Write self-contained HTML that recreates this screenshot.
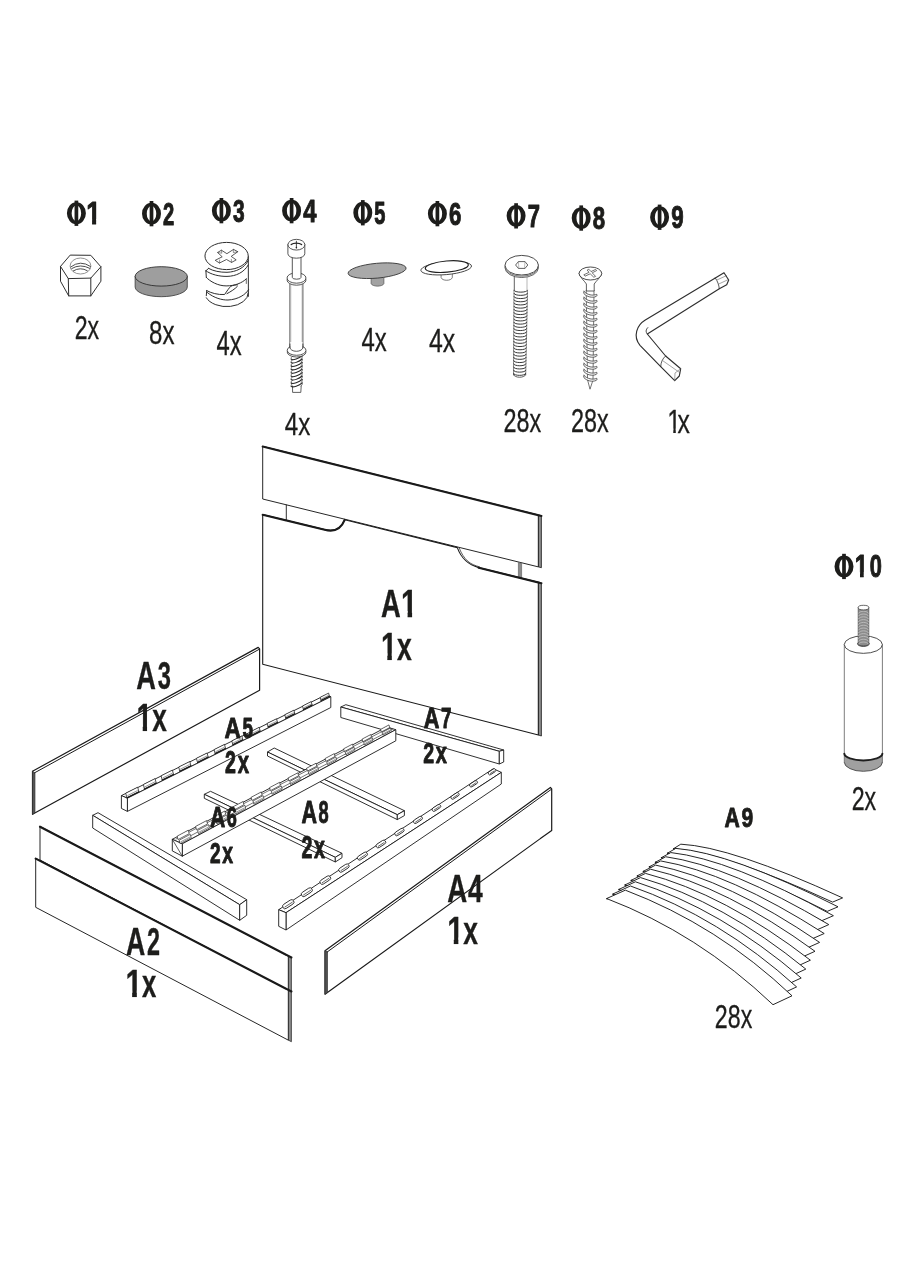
<!DOCTYPE html><html><head><meta charset="utf-8"><title>parts</title><style>html,body{margin:0;padding:0;background:#fff}svg{display:block}text{font-family:"Liberation Sans",sans-serif}</style></head><body><svg width="900" height="1280" viewBox="0 0 900 1280"><rect width="900" height="1280" fill="#fff"/>
<g opacity="0.999"><defs><clipPath id="c1b" clipPathUnits="userSpaceOnUse"><polygon points="0,-300 156,-300 156,-66 151,-66 151,8 89,8 89,-66 0,-66"/></clipPath><clipPath id="c1r" clipPathUnits="userSpaceOnUse"><polygon points="0,-300 142,-300 142,-52 138,-52 138,8 98,8 98,-52 0,-52"/></clipPath></defs>
<path d="M66.90,213.25 a9.50,10.88 0 1,0 19.00,0 a9.50,10.88 0 1,0 -19.00,0 Z M71.65,213.25 a4.75,7.72 0 1,0 9.50,0 a4.75,7.72 0 1,0 -9.50,0 Z" fill="#1d1d1b" fill-rule="evenodd"/><rect x="74.55" y="200.60" width="3.7" height="25.30" fill="#1d1d1b"/>
<text transform="matrix(0.06667 0 0 0.07855 86.15 224.25)" font-size="400" font-weight="bold" fill="#1d1d1b" stroke="#1d1d1b" stroke-width="0.9" vector-effect="non-scaling-stroke" stroke-linejoin="round" clip-path="url(#c1b)">1</text>
<path d="M142.00,213.65 a9.50,10.88 0 1,0 19.00,0 a9.50,10.88 0 1,0 -19.00,0 Z M146.75,213.65 a4.75,7.72 0 1,0 9.50,0 a4.75,7.72 0 1,0 -9.50,0 Z" fill="#1d1d1b" fill-rule="evenodd"/><rect x="149.65" y="201.00" width="3.7" height="25.30" fill="#1d1d1b"/>
<text transform="matrix(0.05045 0 0 0.07855 163.05 224.65)" font-size="400" font-weight="bold" fill="#1d1d1b" stroke="#1d1d1b" stroke-width="0.9" vector-effect="non-scaling-stroke" stroke-linejoin="round">2</text>
<path d="M211.90,210.65 a9.50,10.88 0 1,0 19.00,0 a9.50,10.88 0 1,0 -19.00,0 Z M216.65,210.65 a4.75,7.72 0 1,0 9.50,0 a4.75,7.72 0 1,0 -9.50,0 Z" fill="#1d1d1b" fill-rule="evenodd"/><rect x="219.55" y="198.00" width="3.7" height="25.30" fill="#1d1d1b"/>
<text transform="matrix(0.05225 0 0 0.07855 232.95 221.65)" font-size="400" font-weight="bold" fill="#1d1d1b" stroke="#1d1d1b" stroke-width="0.9" vector-effect="non-scaling-stroke" stroke-linejoin="round">3</text>
<path d="M282.10,210.65 a9.50,10.88 0 1,0 19.00,0 a9.50,10.88 0 1,0 -19.00,0 Z M286.85,210.65 a4.75,7.72 0 1,0 9.50,0 a4.75,7.72 0 1,0 -9.50,0 Z" fill="#1d1d1b" fill-rule="evenodd"/><rect x="289.75" y="198.00" width="3.7" height="25.30" fill="#1d1d1b"/>
<text transform="matrix(0.05946 0 0 0.07855 303.15 221.65)" font-size="400" font-weight="bold" fill="#1d1d1b" stroke="#1d1d1b" stroke-width="0.9" vector-effect="non-scaling-stroke" stroke-linejoin="round">4</text>
<path d="M353.30,212.75 a9.50,10.88 0 1,0 19.00,0 a9.50,10.88 0 1,0 -19.00,0 Z M358.05,212.75 a4.75,7.72 0 1,0 9.50,0 a4.75,7.72 0 1,0 -9.50,0 Z" fill="#1d1d1b" fill-rule="evenodd"/><rect x="360.95" y="200.10" width="3.7" height="25.30" fill="#1d1d1b"/>
<text transform="matrix(0.05000 0 0 0.07855 374.35 223.75)" font-size="400" font-weight="bold" fill="#1d1d1b" stroke="#1d1d1b" stroke-width="0.9" vector-effect="non-scaling-stroke" stroke-linejoin="round">5</text>
<path d="M427.90,213.65 a9.50,10.88 0 1,0 19.00,0 a9.50,10.88 0 1,0 -19.00,0 Z M432.65,213.65 a4.75,7.72 0 1,0 9.50,0 a4.75,7.72 0 1,0 -9.50,0 Z" fill="#1d1d1b" fill-rule="evenodd"/><rect x="435.55" y="201.00" width="3.7" height="25.30" fill="#1d1d1b"/>
<text transform="matrix(0.05541 0 0 0.07855 448.95 224.65)" font-size="400" font-weight="bold" fill="#1d1d1b" stroke="#1d1d1b" stroke-width="0.9" vector-effect="non-scaling-stroke" stroke-linejoin="round">6</text>
<path d="M506.60,215.85 a9.50,10.88 0 1,0 19.00,0 a9.50,10.88 0 1,0 -19.00,0 Z M511.35,215.85 a4.75,7.72 0 1,0 9.50,0 a4.75,7.72 0 1,0 -9.50,0 Z" fill="#1d1d1b" fill-rule="evenodd"/><rect x="514.25" y="203.20" width="3.7" height="25.30" fill="#1d1d1b"/>
<text transform="matrix(0.05495 0 0 0.07855 527.65 226.85)" font-size="400" font-weight="bold" fill="#1d1d1b" stroke="#1d1d1b" stroke-width="0.9" vector-effect="non-scaling-stroke" stroke-linejoin="round">7</text>
<path d="M571.70,218.05 a9.50,10.88 0 1,0 19.00,0 a9.50,10.88 0 1,0 -19.00,0 Z M576.45,218.05 a4.75,7.72 0 1,0 9.50,0 a4.75,7.72 0 1,0 -9.50,0 Z" fill="#1d1d1b" fill-rule="evenodd"/><rect x="579.35" y="205.40" width="3.7" height="25.30" fill="#1d1d1b"/>
<text transform="matrix(0.05541 0 0 0.07855 592.75 229.05)" font-size="400" font-weight="bold" fill="#1d1d1b" stroke="#1d1d1b" stroke-width="0.9" vector-effect="non-scaling-stroke" stroke-linejoin="round">8</text>
<path d="M650.10,217.25 a9.50,10.88 0 1,0 19.00,0 a9.50,10.88 0 1,0 -19.00,0 Z M654.85,217.25 a4.75,7.72 0 1,0 9.50,0 a4.75,7.72 0 1,0 -9.50,0 Z" fill="#1d1d1b" fill-rule="evenodd"/><rect x="657.75" y="204.60" width="3.7" height="25.30" fill="#1d1d1b"/>
<text transform="matrix(0.05586 0 0 0.07855 671.15 228.25)" font-size="400" font-weight="bold" fill="#1d1d1b" stroke="#1d1d1b" stroke-width="0.9" vector-effect="non-scaling-stroke" stroke-linejoin="round">9</text>
<path d="M834.50,566.45 a9.50,10.88 0 1,0 19.00,0 a9.50,10.88 0 1,0 -19.00,0 Z M839.25,566.45 a4.75,7.72 0 1,0 9.50,0 a4.75,7.72 0 1,0 -9.50,0 Z" fill="#1d1d1b" fill-rule="evenodd"/><rect x="842.15" y="553.80" width="3.7" height="25.30" fill="#1d1d1b"/>
<text transform="matrix(0.05917 0 0 0.07745 854.75 577.25)" font-size="400" font-weight="bold" fill="#1d1d1b" stroke="#1d1d1b" stroke-width="0.9" vector-effect="non-scaling-stroke" stroke-linejoin="round" clip-path="url(#c1b)">1</text><text transform="matrix(0.05450 0 0 0.07745 869.65 577.25)" font-size="400" font-weight="bold" fill="#1d1d1b" stroke="#1d1d1b" stroke-width="0.9" vector-effect="non-scaling-stroke" stroke-linejoin="round">0</text>
<text transform="matrix(0.05776 0 0 0.08172 74.75 338.85)" font-size="400" font-weight="normal" fill="#1d1d1b" stroke="#1d1d1b" stroke-width="0.3" vector-effect="non-scaling-stroke" stroke-linejoin="round">2</text><text transform="matrix(0.05776 0 0 0.08172 87.60 338.85)" font-size="400" font-weight="normal" fill="#1d1d1b" stroke="#1d1d1b" stroke-width="0.3" vector-effect="non-scaling-stroke" stroke-linejoin="round">x</text>
<text transform="matrix(0.06012 0 0 0.08092 149.05 343.83)" font-size="400" font-weight="normal" fill="#1d1d1b" stroke="#1d1d1b" stroke-width="0.3" vector-effect="non-scaling-stroke" stroke-linejoin="round">8</text><text transform="matrix(0.06012 0 0 0.08092 162.43 343.83)" font-size="400" font-weight="normal" fill="#1d1d1b" stroke="#1d1d1b" stroke-width="0.3" vector-effect="non-scaling-stroke" stroke-linejoin="round">x</text>
<text transform="matrix(0.05941 0 0 0.08655 216.55 354.55)" font-size="400" font-weight="normal" fill="#1d1d1b" stroke="#1d1d1b" stroke-width="0.3" vector-effect="non-scaling-stroke" stroke-linejoin="round">4</text><text transform="matrix(0.05941 0 0 0.08655 229.77 354.55)" font-size="400" font-weight="normal" fill="#1d1d1b" stroke="#1d1d1b" stroke-width="0.3" vector-effect="non-scaling-stroke" stroke-linejoin="round">x</text>
<text transform="matrix(0.06036 0 0 0.08036 284.75 434.65)" font-size="400" font-weight="normal" fill="#1d1d1b" stroke="#1d1d1b" stroke-width="0.3" vector-effect="non-scaling-stroke" stroke-linejoin="round">4</text><text transform="matrix(0.06036 0 0 0.08036 298.18 434.65)" font-size="400" font-weight="normal" fill="#1d1d1b" stroke="#1d1d1b" stroke-width="0.3" vector-effect="non-scaling-stroke" stroke-linejoin="round">x</text>
<text transform="matrix(0.05965 0 0 0.08436 361.45 350.55)" font-size="400" font-weight="normal" fill="#1d1d1b" stroke="#1d1d1b" stroke-width="0.3" vector-effect="non-scaling-stroke" stroke-linejoin="round">4</text><text transform="matrix(0.05965 0 0 0.08436 374.72 350.55)" font-size="400" font-weight="normal" fill="#1d1d1b" stroke="#1d1d1b" stroke-width="0.3" vector-effect="non-scaling-stroke" stroke-linejoin="round">x</text>
<text transform="matrix(0.06202 0 0 0.08327 429.05 352.25)" font-size="400" font-weight="normal" fill="#1d1d1b" stroke="#1d1d1b" stroke-width="0.3" vector-effect="non-scaling-stroke" stroke-linejoin="round">4</text><text transform="matrix(0.06202 0 0 0.08327 442.85 352.25)" font-size="400" font-weight="normal" fill="#1d1d1b" stroke="#1d1d1b" stroke-width="0.3" vector-effect="non-scaling-stroke" stroke-linejoin="round">x</text>
<text transform="matrix(0.05846 0 0 0.08269 503.55 431.62)" font-size="400" font-weight="normal" fill="#1d1d1b" stroke="#1d1d1b" stroke-width="0.3" vector-effect="non-scaling-stroke" stroke-linejoin="round">2</text><text transform="matrix(0.05846 0 0 0.08269 516.55 431.62)" font-size="400" font-weight="normal" fill="#1d1d1b" stroke="#1d1d1b" stroke-width="0.3" vector-effect="non-scaling-stroke" stroke-linejoin="round">8</text><text transform="matrix(0.05846 0 0 0.08269 529.56 431.62)" font-size="400" font-weight="normal" fill="#1d1d1b" stroke="#1d1d1b" stroke-width="0.3" vector-effect="non-scaling-stroke" stroke-linejoin="round">x</text>
<text transform="matrix(0.05846 0 0 0.08269 571.05 431.62)" font-size="400" font-weight="normal" fill="#1d1d1b" stroke="#1d1d1b" stroke-width="0.3" vector-effect="non-scaling-stroke" stroke-linejoin="round">2</text><text transform="matrix(0.05846 0 0 0.08269 584.05 431.62)" font-size="400" font-weight="normal" fill="#1d1d1b" stroke="#1d1d1b" stroke-width="0.3" vector-effect="non-scaling-stroke" stroke-linejoin="round">8</text><text transform="matrix(0.05846 0 0 0.08269 597.06 431.62)" font-size="400" font-weight="normal" fill="#1d1d1b" stroke="#1d1d1b" stroke-width="0.3" vector-effect="non-scaling-stroke" stroke-linejoin="round">x</text>
<text transform="matrix(0.06168 0 0 0.08109 667.25 432.65)" font-size="400" font-weight="normal" fill="#1d1d1b" stroke="#1d1d1b" stroke-width="0.3" vector-effect="non-scaling-stroke" stroke-linejoin="round" clip-path="url(#c1r)">1</text><text transform="matrix(0.06168 0 0 0.08109 677.61 432.65)" font-size="400" font-weight="normal" fill="#1d1d1b" stroke="#1d1d1b" stroke-width="0.3" vector-effect="non-scaling-stroke" stroke-linejoin="round">x</text>
<text transform="matrix(0.05799 0 0 0.08423 851.65 810.25)" font-size="400" font-weight="normal" fill="#1d1d1b" stroke="#1d1d1b" stroke-width="0.3" vector-effect="non-scaling-stroke" stroke-linejoin="round">2</text><text transform="matrix(0.05799 0 0 0.08423 864.55 810.25)" font-size="400" font-weight="normal" fill="#1d1d1b" stroke="#1d1d1b" stroke-width="0.3" vector-effect="non-scaling-stroke" stroke-linejoin="round">x</text>
<text transform="matrix(0.05799 0 0 0.08269 714.85 1028.02)" font-size="400" font-weight="normal" fill="#1d1d1b" stroke="#1d1d1b" stroke-width="0.3" vector-effect="non-scaling-stroke" stroke-linejoin="round">2</text><text transform="matrix(0.05799 0 0 0.08269 727.75 1028.02)" font-size="400" font-weight="normal" fill="#1d1d1b" stroke="#1d1d1b" stroke-width="0.3" vector-effect="non-scaling-stroke" stroke-linejoin="round">8</text><text transform="matrix(0.05799 0 0 0.08269 740.65 1028.02)" font-size="400" font-weight="normal" fill="#1d1d1b" stroke="#1d1d1b" stroke-width="0.3" vector-effect="non-scaling-stroke" stroke-linejoin="round">x</text>
<polygon points="60.5,266.4 70.2,255.1 90.8,255.3 100.9,266.8 100.9,281.2 90.8,295.9 68.7,295.9 60.5,281.2" fill="#fff" stroke="#2e2e2e" stroke-width="1.0" stroke-linejoin="round" />
<polyline points="60.5,266.4 68.3,278.6 90.8,278.1 100.9,266.8" fill="none" stroke="#2e2e2e" stroke-width="1.0" stroke-linejoin="round" stroke-linecap="round" />
<line x1="68.3" y1="278.6" x2="68.7" y2="295.9" stroke="#2e2e2e" stroke-width="1.0" stroke-linecap="round"/>
<line x1="90.8" y1="278.1" x2="90.8" y2="295.9" stroke="#2e2e2e" stroke-width="1.0" stroke-linecap="round"/>
<ellipse cx="80.5" cy="266.0" rx="10.40" ry="8.00" fill="none" stroke="#777" stroke-width="0.8"/>
<path d="M71.0,266.8 Q80.3,259.6 90.4,266.4" fill="none" stroke="#3a3a3a" stroke-width="0.9" stroke-linejoin="round" stroke-linecap="round" />
<path d="M71.8,268.5 Q80.3,263.4 89.7,268.3" fill="none" stroke="#3a3a3a" stroke-width="0.9" stroke-linejoin="round" stroke-linecap="round" />
<path d="M73.3,270.9 Q80.3,266.6 87.3,270.7" fill="none" stroke="#3a3a3a" stroke-width="0.9" stroke-linejoin="round" stroke-linecap="round" />
<path d="M135.14999999999998,276.4 L135.14999999999998,287.0 A26.05,9.7 0 0,0 187.25,287.0 L187.25,276.4 Z" fill="#949494" stroke="#444" stroke-width="0.9" stroke-linejoin="round" stroke-linecap="round" />
<ellipse cx="161.2" cy="276.4" rx="26.05" ry="9.70" fill="#9e9e9e" stroke="#2e2e2e" stroke-width="0.9"/>
<path d="M205.95,270.0 L205.25,295.5 A21.65,13.6 0 0,0 248.25,296.4 L248.25,256.0 Z" fill="#fff" stroke="none" stroke-width="1.0" stroke-linejoin="round" stroke-linecap="round" />
<line x1="248.3" y1="256.5" x2="248.4" y2="296.4" stroke="#2e2e2e" stroke-width="1.0" stroke-linecap="round"/>
<path d="M206.30,297.73 A21.65,13.60 0 0,0 248.25,293.00" fill="none" stroke="#2e2e2e" stroke-width="1.0" stroke-linejoin="round" stroke-linecap="round" />
<line x1="206.7" y1="290.6" x2="206.3" y2="295.7" stroke="#2e2e2e" stroke-width="1.0" stroke-linecap="round"/>
<path d="M206.7,290.6 C211,293 218,295 224.6,294.5 C227,291 229,288 230.8,286.3 C233,285.2 235.5,284.9 237.4,284.8" fill="none" stroke="#2e2e2e" stroke-width="1.0" stroke-linejoin="round" stroke-linecap="round" />
<path d="M226.9,293.7 C231,291.5 235,289 237.4,286.3" fill="none" stroke="#2e2e2e" stroke-width="1.0" stroke-linejoin="round" stroke-linecap="round" />
<path d="M207.4,292.6 C214,298 222,300.2 228,300 C238,299.6 246,294.5 248.7,289.4" fill="none" stroke="#2e2e2e" stroke-width="1.0" stroke-linejoin="round" stroke-linecap="round" />
<path d="M206.3,277.4 C210,281.5 218,285.9 226.1,285.9 C235,285.9 242,283 246.3,278.9" fill="none" stroke="#2e2e2e" stroke-width="1.0" stroke-linejoin="round" stroke-linecap="round" />
<line x1="205.9" y1="270.8" x2="206.3" y2="277.4" stroke="#2e2e2e" stroke-width="1.0" stroke-linecap="round"/>
<path d="M205.9,270.8 C211,274.5 219,276.5 227,276.4 C236,276.2 244,272.5 248.3,264.9" fill="none" stroke="#2e2e2e" stroke-width="1.0" stroke-linejoin="round" stroke-linecap="round" />
<line x1="205.9" y1="270.8" x2="208.6" y2="268.4" stroke="#2e2e2e" stroke-width="1.0" stroke-linecap="round"/>
<path d="M208.6,268.4 C213,271 220,272.4 227,272.3 C236,272.0 244.5,268 248.1,260.7" fill="none" stroke="#2e2e2e" stroke-width="1.0" stroke-linejoin="round" stroke-linecap="round" />
<line x1="246.3" y1="278.9" x2="246.3" y2="283.5" stroke="#2e2e2e" stroke-width="0.7" stroke-linecap="round"/>
<ellipse cx="226.6" cy="256.0" rx="21.65" ry="13.60" fill="#fff" stroke="#2e2e2e" stroke-width="1.0"/>
<polygon points="217.6,252.5 221.4,250.2 226.9,253.7 233.5,249.4 237.8,251.7 231.2,256.4 236.2,259.9 231.6,262.4 226.5,259.5 219.5,263.0 215.2,260.3 222.2,256.8" fill="#fff" stroke="#2e2e2e" stroke-width="0.8" stroke-linejoin="round" />
<polyline points="221.4,250.2 221.8,253.2 217.6,252.5" fill="none" stroke="#2e2e2e" stroke-width="0.5" stroke-linejoin="round" stroke-linecap="round" />
<polyline points="233.5,249.4 233.3,252.6 237.8,251.7" fill="none" stroke="#2e2e2e" stroke-width="0.5" stroke-linejoin="round" stroke-linecap="round" />
<polyline points="231.6,262.4 231.3,259.3" fill="none" stroke="#2e2e2e" stroke-width="0.5" stroke-linejoin="round" stroke-linecap="round" />
<polyline points="219.5,263.0 219.7,260.0" fill="none" stroke="#2e2e2e" stroke-width="0.5" stroke-linejoin="round" stroke-linecap="round" />
<rect x="289.9" y="284" width="13" height="65" fill="#fff" stroke="none"/>
<line x1="289.9" y1="284.3" x2="289.9" y2="347.7" stroke="#383838" stroke-width="0.85" stroke-linecap="round"/>
<line x1="302.9" y1="284.3" x2="302.9" y2="347.7" stroke="#383838" stroke-width="0.85" stroke-linecap="round"/>
<line x1="290.9" y1="285.0" x2="290.9" y2="347.7" stroke="#aaa" stroke-width="0.5" stroke-linecap="round"/>
<line x1="301.9" y1="285.0" x2="301.9" y2="347.7" stroke="#aaa" stroke-width="0.5" stroke-linecap="round"/>
<path d="M291.8,356 L301.8,356 L301.8,386 L300.8,392.4 L292.6,392.4 L291.8,386 Z" fill="#fff" stroke="none"/>
<path d="M292.5,386 L292.6,392.4 L300.8,392.4 L301.2,386" fill="none" stroke="#383838" stroke-width="0.8" stroke-linejoin="round" stroke-linecap="round" />
<path d="M291.2,359.2 C292.8,360.6 299.2,358.4 302.2,355.6" fill="none" stroke="#262626" stroke-width="1.05" stroke-linejoin="round" stroke-linecap="round" />
<path d="M291.2,359.2 C290.8,357.8 291.6,356.6 292.6,356.3" fill="none" stroke="#383838" stroke-width="0.7" stroke-linejoin="round" stroke-linecap="round" />
<path d="M302.2,355.6 C302.6,357.0 302.0,358.2 301.0,358.8" fill="none" stroke="#383838" stroke-width="0.7" stroke-linejoin="round" stroke-linecap="round" />
<path d="M291.2,362.6 C292.8,364.0 299.2,361.8 302.2,359.0" fill="none" stroke="#262626" stroke-width="1.05" stroke-linejoin="round" stroke-linecap="round" />
<path d="M291.2,362.6 C290.8,361.2 291.6,360.0 292.6,359.7" fill="none" stroke="#383838" stroke-width="0.7" stroke-linejoin="round" stroke-linecap="round" />
<path d="M302.2,359.0 C302.6,360.4 302.0,361.6 301.0,362.2" fill="none" stroke="#383838" stroke-width="0.7" stroke-linejoin="round" stroke-linecap="round" />
<path d="M291.2,366.0 C292.8,367.4 299.2,365.2 302.2,362.4" fill="none" stroke="#262626" stroke-width="1.05" stroke-linejoin="round" stroke-linecap="round" />
<path d="M291.2,366.0 C290.8,364.6 291.6,363.4 292.6,363.1" fill="none" stroke="#383838" stroke-width="0.7" stroke-linejoin="round" stroke-linecap="round" />
<path d="M302.2,362.4 C302.6,363.8 302.0,365.0 301.0,365.6" fill="none" stroke="#383838" stroke-width="0.7" stroke-linejoin="round" stroke-linecap="round" />
<path d="M291.2,369.4 C292.8,370.8 299.2,368.6 302.2,365.8" fill="none" stroke="#262626" stroke-width="1.05" stroke-linejoin="round" stroke-linecap="round" />
<path d="M291.2,369.4 C290.8,368.0 291.6,366.8 292.6,366.5" fill="none" stroke="#383838" stroke-width="0.7" stroke-linejoin="round" stroke-linecap="round" />
<path d="M302.2,365.8 C302.6,367.2 302.0,368.4 301.0,369.0" fill="none" stroke="#383838" stroke-width="0.7" stroke-linejoin="round" stroke-linecap="round" />
<path d="M291.2,372.8 C292.8,374.2 299.2,372.0 302.2,369.2" fill="none" stroke="#262626" stroke-width="1.05" stroke-linejoin="round" stroke-linecap="round" />
<path d="M291.2,372.8 C290.8,371.4 291.6,370.2 292.6,369.9" fill="none" stroke="#383838" stroke-width="0.7" stroke-linejoin="round" stroke-linecap="round" />
<path d="M302.2,369.2 C302.6,370.6 302.0,371.8 301.0,372.4" fill="none" stroke="#383838" stroke-width="0.7" stroke-linejoin="round" stroke-linecap="round" />
<path d="M291.2,376.2 C292.8,377.6 299.2,375.4 302.2,372.6" fill="none" stroke="#262626" stroke-width="1.05" stroke-linejoin="round" stroke-linecap="round" />
<path d="M291.2,376.2 C290.8,374.8 291.6,373.6 292.6,373.3" fill="none" stroke="#383838" stroke-width="0.7" stroke-linejoin="round" stroke-linecap="round" />
<path d="M302.2,372.6 C302.6,374.0 302.0,375.2 301.0,375.8" fill="none" stroke="#383838" stroke-width="0.7" stroke-linejoin="round" stroke-linecap="round" />
<path d="M291.2,379.6 C292.8,381.0 299.2,378.8 302.2,376.0" fill="none" stroke="#262626" stroke-width="1.05" stroke-linejoin="round" stroke-linecap="round" />
<path d="M291.2,379.6 C290.8,378.2 291.6,377.0 292.6,376.7" fill="none" stroke="#383838" stroke-width="0.7" stroke-linejoin="round" stroke-linecap="round" />
<path d="M302.2,376.0 C302.6,377.4 302.0,378.6 301.0,379.2" fill="none" stroke="#383838" stroke-width="0.7" stroke-linejoin="round" stroke-linecap="round" />
<path d="M291.2,383.0 C292.8,384.4 299.2,382.2 302.2,379.4" fill="none" stroke="#262626" stroke-width="1.05" stroke-linejoin="round" stroke-linecap="round" />
<path d="M291.2,383.0 C290.8,381.6 291.6,380.4 292.6,380.1" fill="none" stroke="#383838" stroke-width="0.7" stroke-linejoin="round" stroke-linecap="round" />
<path d="M302.2,379.4 C302.6,380.8 302.0,382.0 301.0,382.6" fill="none" stroke="#383838" stroke-width="0.7" stroke-linejoin="round" stroke-linecap="round" />
<path d="M291.2,386.4 C292.8,387.8 299.2,385.6 302.2,382.8" fill="none" stroke="#262626" stroke-width="1.05" stroke-linejoin="round" stroke-linecap="round" />
<path d="M291.2,386.4 C290.8,385.0 291.6,383.8 292.6,383.5" fill="none" stroke="#383838" stroke-width="0.7" stroke-linejoin="round" stroke-linecap="round" />
<path d="M302.2,382.8 C302.6,384.2 302.0,385.4 301.0,386.0" fill="none" stroke="#383838" stroke-width="0.7" stroke-linejoin="round" stroke-linecap="round" />
<ellipse cx="296.6" cy="352.0" rx="9.40" ry="5.00" fill="#fff" stroke="#383838" stroke-width="0.85"/>
<ellipse cx="296.6" cy="350.3" rx="9.40" ry="5.00" fill="#fff" stroke="#383838" stroke-width="0.85"/>
<path d="M290.3,342 L290.3,347.7 A6.5,3.6 0 0,0 302.5,347.7 L302.5,342 Z" fill="#fff" stroke="none" stroke-width="1.0" stroke-linejoin="round" stroke-linecap="round" />
<path d="M289.9,347.7 A6.5,3.6 0 0,0 302.9,347.7" fill="none" stroke="#383838" stroke-width="0.85" stroke-linejoin="round" stroke-linecap="round" />
<line x1="289.9" y1="344.0" x2="289.9" y2="347.7" stroke="#383838" stroke-width="0.85" stroke-linecap="round"/>
<line x1="302.9" y1="344.0" x2="302.9" y2="347.7" stroke="#383838" stroke-width="0.85" stroke-linecap="round"/>
<ellipse cx="296.5" cy="280.0" rx="9.50" ry="5.20" fill="#fff" stroke="#383838" stroke-width="0.85"/>
<ellipse cx="296.5" cy="278.0" rx="9.50" ry="5.20" fill="#fff" stroke="#383838" stroke-width="0.85"/>
<path d="M292.3,256 L292.3,277.4 A4.35,1.8 0 0,0 301,277.4 L301,256 Z" fill="#fff" stroke="#383838" stroke-width="0.85" stroke-linejoin="round" stroke-linecap="round" />
<path d="M287.9,244.7 L287.9,253.8 A8.45,4.4 0 0,0 304.8,253.8 L304.8,244.7 Z" fill="#fff" stroke="#383838" stroke-width="0.85" stroke-linejoin="round" stroke-linecap="round" />
<ellipse cx="296.4" cy="244.7" rx="8.45" ry="5.35" fill="#fff" stroke="#383838" stroke-width="0.85"/>
<path d="M291.2,244.6 C293.5,242.6 299,242.6 301.6,244.6" fill="none" stroke="#222" stroke-width="1.3" stroke-linejoin="round" stroke-linecap="round" />
<line x1="296.4" y1="241.2" x2="296.4" y2="248.3" stroke="#222" stroke-width="0.8" stroke-linecap="round"/>
<ellipse cx="296.4" cy="247.4" rx="0.80" ry="0.60" fill="#222" stroke="none" stroke-width="0"/>
<path d="M371.1,275 L371.1,283.5 C372,287 383,287 383.9,283.5 L383.9,274 Z" fill="#a2a2a2" stroke="#555" stroke-width="0.7" stroke-linejoin="round" stroke-linecap="round" />
<ellipse cx="377.1" cy="270.7" rx="29.10" ry="7.40" fill="#a9a9a9" stroke="#3a3a3a" stroke-width="0.9" transform="rotate(-5.3 377.1 270.7)"/>
<path d="M441.1,272 L441.1,277.5 C442,281.2 451.4,281.2 452.3,277.5 L452.3,271 Z" fill="#fff" stroke="#444" stroke-width="0.7" stroke-linejoin="round" stroke-linecap="round" />
<ellipse cx="446.2" cy="268.2" rx="25.40" ry="6.40" fill="#fff" stroke="#3a3a3a" stroke-width="0.9" transform="rotate(-5 446.2 268.2)"/>
<ellipse cx="446.8" cy="266.6" rx="21.60" ry="5.60" fill="#fff" stroke="#222" stroke-width="1.2" transform="rotate(-5 446.8 266.6)"/>
<path d="M514,290 L527.7,290 L526.7,374 C526,378 515,378 513.8,374 Z" fill="#fff" stroke="none"/>
<path d="M514.0,290.3 C514.0,292.9 527.5,292.9 527.5,290.3" fill="none" stroke="#2e2e2e" stroke-width="0.95" stroke-linejoin="round" stroke-linecap="round" />
<path d="M514.0,293.5 C514.0,296.1 527.4,296.1 527.4,293.5" fill="none" stroke="#2e2e2e" stroke-width="0.95" stroke-linejoin="round" stroke-linecap="round" />
<path d="M514.0,296.7 C514.0,299.3 527.4,299.3 527.4,296.7" fill="none" stroke="#2e2e2e" stroke-width="0.95" stroke-linejoin="round" stroke-linecap="round" />
<path d="M513.9,299.9 C513.9,302.5 527.3,302.5 527.3,299.9" fill="none" stroke="#2e2e2e" stroke-width="0.95" stroke-linejoin="round" stroke-linecap="round" />
<path d="M513.9,303.1 C513.9,305.7 527.2,305.7 527.2,303.1" fill="none" stroke="#2e2e2e" stroke-width="0.95" stroke-linejoin="round" stroke-linecap="round" />
<path d="M513.9,306.3 C513.9,308.9 527.2,308.9 527.2,306.3" fill="none" stroke="#2e2e2e" stroke-width="0.95" stroke-linejoin="round" stroke-linecap="round" />
<path d="M513.9,309.5 C513.9,312.1 527.1,312.1 527.1,309.5" fill="none" stroke="#2e2e2e" stroke-width="0.95" stroke-linejoin="round" stroke-linecap="round" />
<path d="M513.9,312.7 C513.9,315.3 527.0,315.3 527.0,312.7" fill="none" stroke="#2e2e2e" stroke-width="0.95" stroke-linejoin="round" stroke-linecap="round" />
<path d="M513.8,315.9 C513.8,318.5 527.0,318.5 527.0,315.9" fill="none" stroke="#2e2e2e" stroke-width="0.95" stroke-linejoin="round" stroke-linecap="round" />
<path d="M513.8,319.1 C513.8,321.7 526.9,321.7 526.9,319.1" fill="none" stroke="#2e2e2e" stroke-width="0.95" stroke-linejoin="round" stroke-linecap="round" />
<path d="M513.8,322.3 C513.8,324.9 526.8,324.9 526.8,322.3" fill="none" stroke="#2e2e2e" stroke-width="0.95" stroke-linejoin="round" stroke-linecap="round" />
<path d="M513.8,325.5 C513.8,328.1 526.8,328.1 526.8,325.5" fill="none" stroke="#2e2e2e" stroke-width="0.95" stroke-linejoin="round" stroke-linecap="round" />
<path d="M513.8,328.7 C513.8,331.3 526.7,331.3 526.7,328.7" fill="none" stroke="#2e2e2e" stroke-width="0.95" stroke-linejoin="round" stroke-linecap="round" />
<path d="M513.8,331.9 C513.8,334.5 526.6,334.5 526.6,331.9" fill="none" stroke="#2e2e2e" stroke-width="0.95" stroke-linejoin="round" stroke-linecap="round" />
<path d="M513.7,335.1 C513.7,337.7 526.6,337.7 526.6,335.1" fill="none" stroke="#2e2e2e" stroke-width="0.95" stroke-linejoin="round" stroke-linecap="round" />
<path d="M513.7,338.3 C513.7,340.9 526.5,340.9 526.5,338.3" fill="none" stroke="#2e2e2e" stroke-width="0.95" stroke-linejoin="round" stroke-linecap="round" />
<path d="M513.7,341.5 C513.7,344.1 526.4,344.1 526.4,341.5" fill="none" stroke="#2e2e2e" stroke-width="0.95" stroke-linejoin="round" stroke-linecap="round" />
<path d="M513.7,344.7 C513.7,347.3 526.3,347.3 526.3,344.7" fill="none" stroke="#2e2e2e" stroke-width="0.95" stroke-linejoin="round" stroke-linecap="round" />
<path d="M513.7,347.9 C513.7,350.5 526.3,350.5 526.3,347.9" fill="none" stroke="#2e2e2e" stroke-width="0.95" stroke-linejoin="round" stroke-linecap="round" />
<path d="M513.6,351.1 C513.6,353.7 526.2,353.7 526.2,351.1" fill="none" stroke="#2e2e2e" stroke-width="0.95" stroke-linejoin="round" stroke-linecap="round" />
<path d="M513.6,354.3 C513.6,356.9 526.1,356.9 526.1,354.3" fill="none" stroke="#2e2e2e" stroke-width="0.95" stroke-linejoin="round" stroke-linecap="round" />
<path d="M513.6,357.5 C513.6,360.1 526.1,360.1 526.1,357.5" fill="none" stroke="#2e2e2e" stroke-width="0.95" stroke-linejoin="round" stroke-linecap="round" />
<path d="M513.6,360.7 C513.6,363.3 526.0,363.3 526.0,360.7" fill="none" stroke="#2e2e2e" stroke-width="0.95" stroke-linejoin="round" stroke-linecap="round" />
<path d="M513.6,363.9 C513.6,366.5 525.9,366.5 525.9,363.9" fill="none" stroke="#2e2e2e" stroke-width="0.95" stroke-linejoin="round" stroke-linecap="round" />
<path d="M513.5,367.1 C513.5,369.7 525.9,369.7 525.9,367.1" fill="none" stroke="#2e2e2e" stroke-width="0.95" stroke-linejoin="round" stroke-linecap="round" />
<path d="M513.5,370.3 C513.5,372.9 525.8,372.9 525.8,370.3" fill="none" stroke="#2e2e2e" stroke-width="0.95" stroke-linejoin="round" stroke-linecap="round" />
<path d="M513.5,373.5 C513.5,376.1 525.7,376.1 525.7,373.5" fill="none" stroke="#2e2e2e" stroke-width="0.95" stroke-linejoin="round" stroke-linecap="round" />
<line x1="514.0" y1="290.3" x2="513.5" y2="375.0" stroke="#383838" stroke-width="0.6" stroke-linecap="round"/>
<line x1="527.5" y1="290.3" x2="525.7" y2="375.0" stroke="#383838" stroke-width="0.6" stroke-linecap="round"/>
<path d="M513.5,374.5 C514.2,378.3 525,378.3 525.7,374.5" fill="none" stroke="#383838" stroke-width="0.8" stroke-linejoin="round" stroke-linecap="round" />
<path d="M514.3,276 L514.3,290.3 L527,290.3 L527,276 Z" fill="#fff" stroke="none" stroke-width="1.0" stroke-linejoin="round" stroke-linecap="round" />
<line x1="514.3" y1="276.0" x2="514.3" y2="290.3" stroke="#383838" stroke-width="0.8" stroke-linecap="round"/>
<line x1="527.0" y1="276.0" x2="527.0" y2="290.3" stroke="#999" stroke-width="0.7" stroke-linecap="round"/>
<ellipse cx="521.7" cy="267.7" rx="16.70" ry="9.80" fill="#fff" stroke="#383838" stroke-width="0.8"/>
<ellipse cx="521.7" cy="266.4" rx="16.70" ry="9.80" fill="#fff" stroke="#383838" stroke-width="0.7"/>
<ellipse cx="521.7" cy="265.2" rx="16.70" ry="9.80" fill="#fff" stroke="#383838" stroke-width="0.9"/>
<polygon points="515.6,265.0 518.4,261.6 525.0,261.6 527.8,265.0 525.0,268.4 518.4,268.4" fill="#fff" stroke="#383838" stroke-width="0.8" stroke-linejoin="round" />
<polyline points="518.4,261.6 518.8,267.0 518.4,268.4" fill="none" stroke="#777" stroke-width="0.5" stroke-linejoin="round" stroke-linecap="round" />
<polyline points="525.0,261.6 524.6,267.0 525.0,268.4" fill="none" stroke="#777" stroke-width="0.5" stroke-linejoin="round" stroke-linecap="round" />
<path d="M586.6,290 L594.0,290 L593.0,380 L590,389.2 L587.6,380 Z" fill="#fff" stroke="#383838" stroke-width="0.7" stroke-linejoin="round" stroke-linecap="round" />
<path d="M584.0,291.5 C587,294.9 593,296.1 596.7,294.3 C597.3,295.1 597.0,296.1 596.0,296.5 C592,298.1 587,296.9 584.0,293.7 C583.4,292.9 583.4,292.1 584.0,291.5 Z" fill="#fff" stroke="#383838" stroke-width="0.8" stroke-linejoin="round" stroke-linecap="round" />
<path d="M584.0,297.5 C587,300.9 593,302.1 596.7,300.3 C597.3,301.1 597.0,302.1 596.0,302.5 C592,304.1 587,302.9 584.0,299.7 C583.4,298.9 583.4,298.1 584.0,297.5 Z" fill="#fff" stroke="#383838" stroke-width="0.8" stroke-linejoin="round" stroke-linecap="round" />
<path d="M584.0,303.5 C587,306.9 593,308.1 596.7,306.3 C597.3,307.1 597.0,308.1 596.0,308.5 C592,310.1 587,308.9 584.0,305.7 C583.4,304.9 583.4,304.1 584.0,303.5 Z" fill="#fff" stroke="#383838" stroke-width="0.8" stroke-linejoin="round" stroke-linecap="round" />
<path d="M584.0,309.5 C587,312.9 593,314.1 596.7,312.3 C597.3,313.1 597.0,314.1 596.0,314.5 C592,316.1 587,314.9 584.0,311.7 C583.4,310.9 583.4,310.1 584.0,309.5 Z" fill="#fff" stroke="#383838" stroke-width="0.8" stroke-linejoin="round" stroke-linecap="round" />
<path d="M584.0,315.5 C587,318.9 593,320.1 596.7,318.3 C597.3,319.1 597.0,320.1 596.0,320.5 C592,322.1 587,320.9 584.0,317.7 C583.4,316.9 583.4,316.1 584.0,315.5 Z" fill="#fff" stroke="#383838" stroke-width="0.8" stroke-linejoin="round" stroke-linecap="round" />
<path d="M584.0,321.5 C587,324.9 593,326.1 596.7,324.3 C597.3,325.1 597.0,326.1 596.0,326.5 C592,328.1 587,326.9 584.0,323.7 C583.4,322.9 583.4,322.1 584.0,321.5 Z" fill="#fff" stroke="#383838" stroke-width="0.8" stroke-linejoin="round" stroke-linecap="round" />
<path d="M584.0,327.5 C587,330.9 593,332.1 596.7,330.3 C597.3,331.1 597.0,332.1 596.0,332.5 C592,334.1 587,332.9 584.0,329.7 C583.4,328.9 583.4,328.1 584.0,327.5 Z" fill="#fff" stroke="#383838" stroke-width="0.8" stroke-linejoin="round" stroke-linecap="round" />
<path d="M584.0,333.5 C587,336.9 593,338.1 596.7,336.3 C597.3,337.1 597.0,338.1 596.0,338.5 C592,340.1 587,338.9 584.0,335.7 C583.4,334.9 583.4,334.1 584.0,333.5 Z" fill="#fff" stroke="#383838" stroke-width="0.8" stroke-linejoin="round" stroke-linecap="round" />
<path d="M584.0,339.5 C587,342.9 593,344.1 596.7,342.3 C597.3,343.1 597.0,344.1 596.0,344.5 C592,346.1 587,344.9 584.0,341.7 C583.4,340.9 583.4,340.1 584.0,339.5 Z" fill="#fff" stroke="#383838" stroke-width="0.8" stroke-linejoin="round" stroke-linecap="round" />
<path d="M584.0,345.5 C587,348.9 593,350.1 596.7,348.3 C597.3,349.1 597.0,350.1 596.0,350.5 C592,352.1 587,350.9 584.0,347.7 C583.4,346.9 583.4,346.1 584.0,345.5 Z" fill="#fff" stroke="#383838" stroke-width="0.8" stroke-linejoin="round" stroke-linecap="round" />
<path d="M584.0,351.5 C587,354.9 593,356.1 596.7,354.3 C597.3,355.1 597.0,356.1 596.0,356.5 C592,358.1 587,356.9 584.0,353.7 C583.4,352.9 583.4,352.1 584.0,351.5 Z" fill="#fff" stroke="#383838" stroke-width="0.8" stroke-linejoin="round" stroke-linecap="round" />
<path d="M584.0,357.5 C587,360.9 593,362.1 596.7,360.3 C597.3,361.1 597.0,362.1 596.0,362.5 C592,364.1 587,362.9 584.0,359.7 C583.4,358.9 583.4,358.1 584.0,357.5 Z" fill="#fff" stroke="#383838" stroke-width="0.8" stroke-linejoin="round" stroke-linecap="round" />
<path d="M584.0,363.5 C587,366.9 593,368.1 596.7,366.3 C597.3,367.1 597.0,368.1 596.0,368.5 C592,370.1 587,368.9 584.0,365.7 C583.4,364.9 583.4,364.1 584.0,363.5 Z" fill="#fff" stroke="#383838" stroke-width="0.8" stroke-linejoin="round" stroke-linecap="round" />
<path d="M584.0,369.5 C587,372.9 593,374.1 596.7,372.3 C597.3,373.1 597.0,374.1 596.0,374.5 C592,376.1 587,374.9 584.0,371.7 C583.4,370.9 583.4,370.1 584.0,369.5 Z" fill="#fff" stroke="#383838" stroke-width="0.8" stroke-linejoin="round" stroke-linecap="round" />
<path d="M584.0,375.5 C587,378.9 593,380.1 596.7,378.3 C597.3,379.1 597.0,380.1 596.0,380.5 C592,382.1 587,380.9 584.0,377.7 C583.4,376.9 583.4,376.1 584.0,375.5 Z" fill="#fff" stroke="#383838" stroke-width="0.8" stroke-linejoin="round" stroke-linecap="round" />
<path d="M579,273.5 C579.5,277 585,281.5 586.4,284 L586.4,291 L594.2,291 L594.2,284 C595.6,281.5 601.2,277 601.7,273.5 Z" fill="#fff" stroke="#383838" stroke-width="0.8" stroke-linejoin="round" stroke-linecap="round" />
<ellipse cx="590.4" cy="273.5" rx="11.35" ry="6.50" fill="#fff" stroke="#383838" stroke-width="0.9"/>
<path d="M584.6,275.6 L590.0,272.8 L595.8,270.0 M586.6,270.8 L590.6,273.4 L594.6,276.6" fill="none" stroke="#fff" stroke-width="3.0" stroke-linejoin="round" stroke-linecap="round" />
<path d="M584.2,274.6 L589.0,272.4 L587.2,270.0 L588.8,269.2 L591.0,271.6 L595.6,269.4 L596.6,270.6 L592.2,272.8 L595.6,276.4 L593.8,277.2 L590.2,273.8 L585.4,276.0 Z" fill="#fff" stroke="#383838" stroke-width="0.7" stroke-linejoin="round" stroke-linecap="round" />
<path d="M715.3,278 L645.3,320 C637,325 632.5,336 640,345.3 L660.7,366.7 L674.7,380.7 L679.3,376 L680.7,368.7 L665.6,356 L647.3,334.0 L719.3,288.7 L726.7,284.7 L728.7,280.0 L724.0,272.7 Z" fill="#fff" stroke="#2e2e2e" stroke-width="1.15" stroke-linejoin="round" stroke-linecap="round" />
<path d="M647.3,334.0 C645.6,332.2 645.6,329.8 647.8,327.6" fill="none" stroke="#2e2e2e" stroke-width="0.9" stroke-linejoin="round" stroke-linecap="round" />
<path d="M715.3,278 C717.5,281 719,285 719.3,288.7" fill="none" stroke="#2e2e2e" stroke-width="0.8" stroke-linejoin="round" stroke-linecap="round" />
<polyline points="717.3,279.8 726.6,275.6" fill="none" stroke="#666" stroke-width="0.6" stroke-linejoin="round" stroke-linecap="round" />
<polyline points="718.8,284.0 728.2,279.6" fill="none" stroke="#666" stroke-width="0.6" stroke-linejoin="round" stroke-linecap="round" />
<path d="M665.6,356 C662.5,358.5 660.8,362.5 660.7,366.7" fill="none" stroke="#2e2e2e" stroke-width="0.8" stroke-linejoin="round" stroke-linecap="round" />
<polyline points="662.6,360.6 680.0,372.8" fill="none" stroke="#666" stroke-width="0.6" stroke-linejoin="round" stroke-linecap="round" />
<polyline points="674.7,380.7 675.0,373.0 680.7,368.7" fill="none" stroke="#666" stroke-width="0.6" stroke-linejoin="round" stroke-linecap="round" />
<path d="M844.3,644.6 L844.3,762.5 A19.05000000000001,8.8 0 0,0 882.4,762.5 L882.4,644.6 Z" fill="#fff" stroke="none" stroke-width="1.0" stroke-linejoin="round" stroke-linecap="round" />
<path d="M844.3,754.0 A19.05000000000001,6.9 0 0,0 882.4,754.0 L882.4,762.5 A19.05000000000001,8.8 0 0,1 844.3,762.5 Z" fill="#a0a0a0" stroke="none" stroke-width="1.0" stroke-linejoin="round" stroke-linecap="round" />
<path d="M844.3,762.5 A19.05000000000001,8.8 0 0,0 882.4,762.5" fill="none" stroke="#4a4a4a" stroke-width="0.9" stroke-linejoin="round" stroke-linecap="round" />
<line x1="844.3" y1="644.6" x2="844.3" y2="762.5" stroke="#6e6e6e" stroke-width="0.9" stroke-linecap="round"/>
<line x1="882.4" y1="644.6" x2="882.4" y2="762.5" stroke="#6e6e6e" stroke-width="0.9" stroke-linecap="round"/>
<path d="M844.3,753.6 A19.05000000000001,6.9 0 0,0 882.4,753.6" fill="none" stroke="#1e1e1e" stroke-width="1.9" stroke-linejoin="round" stroke-linecap="round" />
<ellipse cx="863.3" cy="644.6" rx="19.05" ry="8.75" fill="#fff" stroke="#3a3a3a" stroke-width="0.9"/>
<ellipse cx="863.4" cy="643.8" rx="5.90" ry="2.60" fill="#777" stroke="#333" stroke-width="0.8"/>
<path d="M858.2,607.6 L858.2,643.6 A5.3,2.2 0 0,0 868.8,643.6 L868.8,607.6 Z" fill="#8c8c8c" stroke="#4a4a4a" stroke-width="0.7" stroke-linejoin="round" stroke-linecap="round" />
<path d="M858.6,613.1 C860,610.5 867,610.5 868.4,613.1" fill="none" stroke="#c4c4c4" stroke-width="0.8" stroke-linejoin="round" stroke-linecap="round" />
<path d="M858.6,615.9 C860,613.3 867,613.3 868.4,615.9" fill="none" stroke="#c4c4c4" stroke-width="0.8" stroke-linejoin="round" stroke-linecap="round" />
<path d="M858.6,618.7 C860,616.1 867,616.1 868.4,618.7" fill="none" stroke="#c4c4c4" stroke-width="0.8" stroke-linejoin="round" stroke-linecap="round" />
<path d="M858.6,621.5 C860,618.9 867,618.9 868.4,621.5" fill="none" stroke="#c4c4c4" stroke-width="0.8" stroke-linejoin="round" stroke-linecap="round" />
<path d="M858.6,624.3 C860,621.7 867,621.7 868.4,624.3" fill="none" stroke="#c4c4c4" stroke-width="0.8" stroke-linejoin="round" stroke-linecap="round" />
<path d="M858.6,627.1 C860,624.5 867,624.5 868.4,627.1" fill="none" stroke="#c4c4c4" stroke-width="0.8" stroke-linejoin="round" stroke-linecap="round" />
<path d="M858.6,629.9 C860,627.3 867,627.3 868.4,629.9" fill="none" stroke="#c4c4c4" stroke-width="0.8" stroke-linejoin="round" stroke-linecap="round" />
<path d="M858.6,632.7 C860,630.1 867,630.1 868.4,632.7" fill="none" stroke="#c4c4c4" stroke-width="0.8" stroke-linejoin="round" stroke-linecap="round" />
<path d="M858.6,635.5 C860,632.9 867,632.9 868.4,635.5" fill="none" stroke="#c4c4c4" stroke-width="0.8" stroke-linejoin="round" stroke-linecap="round" />
<path d="M858.6,638.3 C860,635.7 867,635.7 868.4,638.3" fill="none" stroke="#c4c4c4" stroke-width="0.8" stroke-linejoin="round" stroke-linecap="round" />
<path d="M858.6,641.1 C860,638.5 867,638.5 868.4,641.1" fill="none" stroke="#c4c4c4" stroke-width="0.8" stroke-linejoin="round" stroke-linecap="round" />
<path d="M858.6,643.9 C860,641.3 867,641.3 868.4,643.9" fill="none" stroke="#c4c4c4" stroke-width="0.8" stroke-linejoin="round" stroke-linecap="round" />
<ellipse cx="863.5" cy="607.6" rx="5.30" ry="2.30" fill="#fff" stroke="#444" stroke-width="0.8"/>
<polygon points="262.7,446.3 538.4,515.0 538.4,566.9 262.7,499.0" fill="#fff" stroke="#1a1a1a" stroke-width="0.95" stroke-linejoin="round" />
<polygon points="538.4,515.0 541.4,515.8 541.4,567.7 538.4,566.9" fill="#8c8c8c" stroke="#1a1a1a" stroke-width="0.8" stroke-linejoin="round" />
<line x1="262.7" y1="446.6" x2="541.4" y2="515.9" stroke="#1a1a1a" stroke-width="2.1" stroke-linecap="round"/>
<line x1="286.3" y1="505.0" x2="286.3" y2="519.5" stroke="#1a1a1a" stroke-width="0.9" stroke-linecap="round"/>
<polygon points="518.4,562.5 521.6,563.3 521.6,577.5 518.4,576.7" fill="#8c8c8c" stroke="#555" stroke-width="0.6" stroke-linejoin="round" />
<path d="M262.7,514.6 L324.7,529.6 C334,532 341,529 344.7,519.7 L457.3,547.6 C462,560 469,565 478.7,567.6 L538.4,582.4 L538.4,735 L262.7,664.3 Z" fill="#fff" stroke="#1a1a1a" stroke-width="1.1" stroke-linejoin="round" stroke-linecap="round" />
<polygon points="538.4,582.4 541.4,583.2 541.4,736.0 538.4,735.0" fill="#8c8c8c" stroke="#1a1a1a" stroke-width="0.8" stroke-linejoin="round" />
<path d="M262.7,514.8 L324.7,529.8 C334,532.2 341,529.2 344.7,519.9" fill="none" stroke="#1a1a1a" stroke-width="2.1" stroke-linejoin="round" stroke-linecap="round" />
<path d="M478.7,567.8 L541.4,583.3" fill="none" stroke="#1a1a1a" stroke-width="2.1" stroke-linejoin="round" stroke-linecap="round" />
<path d="M459.3,548.2 C464,560 470,564.5 479.5,566.8" fill="none" stroke="#1a1a1a" stroke-width="0.7" stroke-linejoin="round" stroke-linecap="round" />
<polygon points="258.2,647.4 32.5,771.2 32.5,814.3 259.6,690.2 259.6,648.9" fill="#fff" stroke="#1a1a1a" stroke-width="1.2" stroke-linejoin="round" />
<polygon points="32.5,771.2 34.9,772.9 34.9,813.0 32.5,814.3" fill="#555" stroke="#333" stroke-width="0.8" stroke-linejoin="round" />
<line x1="34.6" y1="772.8" x2="259.4" y2="649.2" stroke="#1a1a1a" stroke-width="1.0" stroke-linecap="round"/>
<polygon points="340.8,707.0 345.8,704.7 503.7,750.0 499.3,751.3" fill="#fff" stroke="#1a1a1a" stroke-width="0.9" stroke-linejoin="round" />
<polygon points="340.8,707.0 499.3,751.3 499.3,764.0 340.8,717.5" fill="#fff" stroke="#1a1a1a" stroke-width="0.9" stroke-linejoin="round" />
<polygon points="499.3,751.3 503.7,750.0 503.7,762.0 499.3,764.0" fill="#fff" stroke="#1a1a1a" stroke-width="0.9" stroke-linejoin="round" />
<polygon points="121.4,795.6 325.0,695.3 330.8,696.7 127.4,798.2" fill="#fff" stroke="#1a1a1a" stroke-width="0.9" stroke-linejoin="round" />
<polygon points="127.4,798.2 330.8,696.7 330.8,707.5 127.4,811.4" fill="#fff" stroke="#1a1a1a" stroke-width="0.9" stroke-linejoin="round" />
<polygon points="121.4,795.6 127.4,798.2 127.4,811.4 121.4,808.4" fill="#fff" stroke="#1a1a1a" stroke-width="0.9" stroke-linejoin="round" />
<polygon points="125.7,793.2 137.7,787.2 138.9,791.8 126.9,797.8" fill="#fff" stroke="#1a1a1a" stroke-width="0.75" stroke-linejoin="round"/><line x1="126.9" y1="797.8" x2="138.9" y2="791.8" stroke="#1a1a1a" stroke-width="1.1" stroke-linecap="round"/><line x1="127.7" y1="795.5" x2="137.3" y2="790.7" stroke="#444" stroke-width="0.55" stroke-linecap="round"/>
<polygon points="143.4,784.5 155.1,778.6 156.2,783.1 144.5,789.0" fill="#fff" stroke="#1a1a1a" stroke-width="0.75" stroke-linejoin="round"/><line x1="144.5" y1="789.0" x2="156.2" y2="783.1" stroke="#1a1a1a" stroke-width="1.1" stroke-linecap="round"/><line x1="145.3" y1="786.7" x2="154.6" y2="782.0" stroke="#444" stroke-width="0.55" stroke-linecap="round"/>
<polygon points="161.1,775.8 172.4,770.1 173.5,774.4 162.2,780.1" fill="#fff" stroke="#1a1a1a" stroke-width="0.75" stroke-linejoin="round"/><line x1="162.2" y1="780.1" x2="173.5" y2="774.4" stroke="#1a1a1a" stroke-width="1.1" stroke-linecap="round"/><line x1="162.9" y1="777.9" x2="172.0" y2="773.4" stroke="#444" stroke-width="0.55" stroke-linecap="round"/>
<polygon points="178.7,767.0 189.8,761.5 190.9,765.8 179.8,771.3" fill="#fff" stroke="#1a1a1a" stroke-width="0.75" stroke-linejoin="round"/><line x1="179.8" y1="771.3" x2="190.9" y2="765.8" stroke="#1a1a1a" stroke-width="1.1" stroke-linecap="round"/><line x1="180.5" y1="769.1" x2="189.3" y2="764.7" stroke="#444" stroke-width="0.55" stroke-linecap="round"/>
<polygon points="196.4,758.3 207.1,753.0 208.2,757.1 197.5,762.4" fill="#fff" stroke="#1a1a1a" stroke-width="0.75" stroke-linejoin="round"/><line x1="197.5" y1="762.4" x2="208.2" y2="757.1" stroke="#1a1a1a" stroke-width="1.1" stroke-linecap="round"/><line x1="198.2" y1="760.4" x2="206.7" y2="756.1" stroke="#444" stroke-width="0.55" stroke-linecap="round"/>
<polygon points="214.1,749.6 224.5,744.4 225.5,748.4 215.1,753.6" fill="#fff" stroke="#1a1a1a" stroke-width="0.75" stroke-linejoin="round"/><line x1="215.1" y1="753.6" x2="225.5" y2="748.4" stroke="#1a1a1a" stroke-width="1.1" stroke-linecap="round"/><line x1="215.8" y1="751.6" x2="224.1" y2="747.4" stroke="#444" stroke-width="0.55" stroke-linecap="round"/>
<polygon points="231.8,740.9 241.8,735.9 242.8,739.7 232.8,744.7" fill="#fff" stroke="#1a1a1a" stroke-width="0.75" stroke-linejoin="round"/><line x1="232.8" y1="744.7" x2="242.8" y2="739.7" stroke="#1a1a1a" stroke-width="1.1" stroke-linecap="round"/><line x1="233.4" y1="742.8" x2="241.4" y2="738.8" stroke="#444" stroke-width="0.55" stroke-linecap="round"/>
<polygon points="249.5,732.2 259.2,727.3 260.1,731.0 250.4,735.9" fill="#fff" stroke="#1a1a1a" stroke-width="0.75" stroke-linejoin="round"/><line x1="250.4" y1="735.9" x2="260.1" y2="731.0" stroke="#1a1a1a" stroke-width="1.1" stroke-linecap="round"/><line x1="251.0" y1="734.0" x2="258.8" y2="730.1" stroke="#444" stroke-width="0.55" stroke-linecap="round"/>
<polygon points="267.1,723.4 276.5,718.8 277.5,722.4 268.1,727.0" fill="#fff" stroke="#1a1a1a" stroke-width="0.75" stroke-linejoin="round"/><line x1="268.1" y1="727.0" x2="277.5" y2="722.4" stroke="#1a1a1a" stroke-width="1.1" stroke-linecap="round"/><line x1="268.7" y1="725.2" x2="276.2" y2="721.5" stroke="#444" stroke-width="0.55" stroke-linecap="round"/>
<polygon points="284.8,714.7 293.9,710.2 294.8,713.7 285.7,718.2" fill="#fff" stroke="#1a1a1a" stroke-width="0.75" stroke-linejoin="round"/><line x1="285.7" y1="718.2" x2="294.8" y2="713.7" stroke="#1a1a1a" stroke-width="1.1" stroke-linecap="round"/><line x1="286.3" y1="716.4" x2="293.5" y2="712.8" stroke="#444" stroke-width="0.55" stroke-linecap="round"/>
<polygon points="302.5,706.0 311.2,701.6 312.1,705.0 303.4,709.4" fill="#fff" stroke="#1a1a1a" stroke-width="0.75" stroke-linejoin="round"/><line x1="303.4" y1="709.4" x2="312.1" y2="705.0" stroke="#1a1a1a" stroke-width="1.1" stroke-linecap="round"/><line x1="303.9" y1="707.7" x2="310.9" y2="704.2" stroke="#444" stroke-width="0.55" stroke-linecap="round"/>
<polygon points="320.2,697.3 328.6,693.1 329.4,696.3 321.0,700.5" fill="#fff" stroke="#1a1a1a" stroke-width="0.75" stroke-linejoin="round"/><line x1="321.0" y1="700.5" x2="329.4" y2="696.3" stroke="#1a1a1a" stroke-width="1.1" stroke-linecap="round"/><line x1="321.5" y1="698.9" x2="328.3" y2="695.5" stroke="#444" stroke-width="0.55" stroke-linecap="round"/>
<polygon points="267.5,752.0 274.2,748.0 404.4,810.7 397.3,814.7" fill="#fff" stroke="#1a1a1a" stroke-width="0.9" stroke-linejoin="round" />
<polygon points="267.5,752.0 397.3,814.7 397.3,819.6 267.5,756.0" fill="#fff" stroke="#1a1a1a" stroke-width="0.9" stroke-linejoin="round" />
<polygon points="397.3,814.7 404.4,810.7 404.4,815.6 397.3,819.6" fill="#fff" stroke="#1a1a1a" stroke-width="0.9" stroke-linejoin="round" />
<polygon points="204.3,794.3 210.5,791.3 342.0,853.3 335.3,857.3" fill="#fff" stroke="#1a1a1a" stroke-width="0.9" stroke-linejoin="round" />
<polygon points="204.3,794.3 335.3,857.3 335.3,862.0 204.3,798.3" fill="#fff" stroke="#1a1a1a" stroke-width="0.9" stroke-linejoin="round" />
<polygon points="335.3,857.3 342.0,853.3 342.0,857.7 335.3,862.0" fill="#fff" stroke="#1a1a1a" stroke-width="0.9" stroke-linejoin="round" />
<polygon points="172.3,839.3 386.7,727.0 395.8,729.7 182.3,843.8" fill="#fff" stroke="#1a1a1a" stroke-width="0.9" stroke-linejoin="round" />
<polygon points="182.3,843.8 395.8,729.7 395.8,740.8 182.3,856.2" fill="#fff" stroke="#1a1a1a" stroke-width="0.9" stroke-linejoin="round" />
<polygon points="172.3,839.3 182.3,843.8 182.3,856.2 172.3,850.9" fill="#fff" stroke="#1a1a1a" stroke-width="0.9" stroke-linejoin="round" />
<line x1="172.3" y1="839.3" x2="182.3" y2="856.2" stroke="#1a1a1a" stroke-width="0.7" stroke-linecap="round"/>
<line x1="176.0" y1="839.0" x2="389.5" y2="727.6" stroke="#1a1a1a" stroke-width="0.6" stroke-linecap="round"/>
<line x1="179.2" y1="841.8" x2="392.8" y2="729.0" stroke="#1a1a1a" stroke-width="0.6" stroke-linecap="round"/>
<polygon points="177.2,836.1 188.3,830.2 189.2,833.7 178.0,839.6" fill="#fff" stroke="#1a1a1a" stroke-width="0.65" stroke-linejoin="round"/>
<polygon points="179.2,840.2 190.3,834.3 191.2,837.8 180.0,843.7" fill="#fff" stroke="#1a1a1a" stroke-width="0.65" stroke-linejoin="round"/><line x1="180.8" y1="841.8" x2="189.8" y2="837.1" stroke="#444" stroke-width="0.55" stroke-linecap="round"/>
<polygon points="195.6,826.4 206.6,820.6 207.5,824.0 196.5,829.8" fill="#fff" stroke="#1a1a1a" stroke-width="0.65" stroke-linejoin="round"/>
<polygon points="197.6,830.4 208.5,824.6 209.4,828.0 198.5,833.8" fill="#fff" stroke="#1a1a1a" stroke-width="0.65" stroke-linejoin="round"/><line x1="199.2" y1="832.0" x2="208.0" y2="827.3" stroke="#444" stroke-width="0.55" stroke-linecap="round"/>
<polygon points="214.1,816.7 224.8,811.0 225.7,814.4 215.0,820.1" fill="#fff" stroke="#1a1a1a" stroke-width="0.65" stroke-linejoin="round"/>
<polygon points="216.1,820.6 226.7,815.0 227.6,818.3 216.9,824.0" fill="#fff" stroke="#1a1a1a" stroke-width="0.65" stroke-linejoin="round"/><line x1="217.7" y1="822.2" x2="226.2" y2="817.6" stroke="#444" stroke-width="0.55" stroke-linecap="round"/>
<polygon points="232.6,807.0 243.1,801.5 243.9,804.7 233.5,810.3" fill="#fff" stroke="#1a1a1a" stroke-width="0.65" stroke-linejoin="round"/>
<polygon points="234.5,810.8 244.9,805.3 245.8,808.6 235.3,814.1" fill="#fff" stroke="#1a1a1a" stroke-width="0.65" stroke-linejoin="round"/><line x1="236.1" y1="812.3" x2="244.4" y2="807.9" stroke="#444" stroke-width="0.55" stroke-linecap="round"/>
<polygon points="251.1,797.3 261.3,791.9 262.1,795.1 252.0,800.5" fill="#fff" stroke="#1a1a1a" stroke-width="0.65" stroke-linejoin="round"/>
<polygon points="253.0,801.0 263.1,795.6 264.0,798.8 253.8,804.2" fill="#fff" stroke="#1a1a1a" stroke-width="0.65" stroke-linejoin="round"/><line x1="254.5" y1="802.5" x2="262.6" y2="798.2" stroke="#444" stroke-width="0.55" stroke-linecap="round"/>
<polygon points="269.6,787.6 279.6,782.3 280.4,785.4 270.4,790.7" fill="#fff" stroke="#1a1a1a" stroke-width="0.65" stroke-linejoin="round"/>
<polygon points="271.4,791.2 281.3,786.0 282.1,789.1 272.2,794.3" fill="#fff" stroke="#1a1a1a" stroke-width="0.65" stroke-linejoin="round"/><line x1="272.9" y1="792.7" x2="280.8" y2="788.4" stroke="#444" stroke-width="0.55" stroke-linecap="round"/>
<polygon points="288.1,777.9 297.8,772.8 298.6,775.8 288.9,780.9" fill="#fff" stroke="#1a1a1a" stroke-width="0.65" stroke-linejoin="round"/>
<polygon points="289.9,781.4 299.5,776.3 300.3,779.3 290.6,784.5" fill="#fff" stroke="#1a1a1a" stroke-width="0.65" stroke-linejoin="round"/><line x1="291.3" y1="782.8" x2="299.1" y2="778.7" stroke="#444" stroke-width="0.55" stroke-linecap="round"/>
<polygon points="306.6,768.2 316.1,763.2 316.8,766.2 307.4,771.1" fill="#fff" stroke="#1a1a1a" stroke-width="0.65" stroke-linejoin="round"/>
<polygon points="308.3,771.7 317.7,766.7 318.5,769.6 309.1,774.6" fill="#fff" stroke="#1a1a1a" stroke-width="0.65" stroke-linejoin="round"/><line x1="309.7" y1="773.0" x2="317.3" y2="769.0" stroke="#444" stroke-width="0.55" stroke-linecap="round"/>
<polygon points="325.1,758.5 334.3,753.6 335.0,756.5 325.9,761.4" fill="#fff" stroke="#1a1a1a" stroke-width="0.65" stroke-linejoin="round"/>
<polygon points="326.8,761.9 335.9,757.0 336.7,759.9 327.5,764.7" fill="#fff" stroke="#1a1a1a" stroke-width="0.65" stroke-linejoin="round"/><line x1="328.1" y1="763.2" x2="335.5" y2="759.3" stroke="#444" stroke-width="0.55" stroke-linecap="round"/>
<polygon points="343.6,748.8 352.5,744.1 353.3,746.9 344.3,751.6" fill="#fff" stroke="#1a1a1a" stroke-width="0.65" stroke-linejoin="round"/>
<polygon points="345.2,752.1 354.1,747.3 354.8,750.1 345.9,754.8" fill="#fff" stroke="#1a1a1a" stroke-width="0.65" stroke-linejoin="round"/><line x1="346.6" y1="753.3" x2="353.7" y2="749.5" stroke="#444" stroke-width="0.55" stroke-linecap="round"/>
<polygon points="362.1,739.1 370.8,734.5 371.5,737.2 362.8,741.8" fill="#fff" stroke="#1a1a1a" stroke-width="0.65" stroke-linejoin="round"/>
<polygon points="363.7,742.3 372.3,737.7 373.0,740.4 364.4,745.0" fill="#fff" stroke="#1a1a1a" stroke-width="0.65" stroke-linejoin="round"/><line x1="365.0" y1="743.5" x2="371.9" y2="739.8" stroke="#444" stroke-width="0.55" stroke-linecap="round"/>
<polygon points="380.6,729.4 389.0,724.9 389.7,727.6 381.3,732.0" fill="#fff" stroke="#1a1a1a" stroke-width="0.65" stroke-linejoin="round"/>
<polygon points="382.1,732.5 390.5,728.0 391.2,730.6 382.8,735.1" fill="#fff" stroke="#1a1a1a" stroke-width="0.65" stroke-linejoin="round"/><line x1="383.4" y1="733.7" x2="390.1" y2="730.1" stroke="#444" stroke-width="0.55" stroke-linecap="round"/>
<polygon points="92.7,815.3 98.0,812.7 246.7,899.7 239.7,904.7" fill="#fff" stroke="#1a1a1a" stroke-width="0.9" stroke-linejoin="round" />
<polygon points="92.7,815.3 239.7,904.7 239.7,920.3 92.7,828.0" fill="#fff" stroke="#1a1a1a" stroke-width="0.9" stroke-linejoin="round" />
<polygon points="239.7,904.7 246.7,899.7 246.7,915.3 239.7,920.3" fill="#fff" stroke="#1a1a1a" stroke-width="0.9" stroke-linejoin="round" />
<polygon points="278.7,909.7 493.3,768.7 501.3,772.4 286.0,912.7" fill="#fff" stroke="#1a1a1a" stroke-width="0.9" stroke-linejoin="round" />
<polygon points="286.0,912.7 501.3,772.4 501.3,784.0 286.0,930.0" fill="#fff" stroke="#1a1a1a" stroke-width="0.9" stroke-linejoin="round" />
<polygon points="278.7,909.7 286.0,912.7 286.0,930.0 278.7,926.3" fill="#fff" stroke="#1a1a1a" stroke-width="0.9" stroke-linejoin="round" />
<g transform="translate(288.3 904.2) rotate(-33.0)"><rect x="-6.30" y="-2.40" width="12.60" height="4.80" rx="2.40" fill="#fff" stroke="#1a1a1a" stroke-width="0.8"/><line x1="-4.80" y1="0.50" x2="4.80" y2="0.50" stroke="#1a1a1a" stroke-width="0.6"/></g>
<g transform="translate(306.8 892.2) rotate(-33.0)"><rect x="-6.11" y="-2.33" width="12.22" height="4.66" rx="2.33" fill="#fff" stroke="#1a1a1a" stroke-width="0.8"/><line x1="-4.61" y1="0.50" x2="4.61" y2="0.50" stroke="#1a1a1a" stroke-width="0.6"/></g>
<g transform="translate(325.3 880.1) rotate(-33.0)"><rect x="-5.92" y="-2.26" width="11.84" height="4.51" rx="2.26" fill="#fff" stroke="#1a1a1a" stroke-width="0.8"/><line x1="-4.42" y1="0.50" x2="4.42" y2="0.50" stroke="#1a1a1a" stroke-width="0.6"/></g>
<g transform="translate(343.9 868.1) rotate(-33.0)"><rect x="-5.73" y="-2.18" width="11.47" height="4.37" rx="2.18" fill="#fff" stroke="#1a1a1a" stroke-width="0.8"/><line x1="-4.23" y1="0.50" x2="4.23" y2="0.50" stroke="#1a1a1a" stroke-width="0.6"/></g>
<g transform="translate(362.4 856.1) rotate(-33.0)"><rect x="-5.54" y="-2.11" width="11.09" height="4.22" rx="2.11" fill="#fff" stroke="#1a1a1a" stroke-width="0.8"/><line x1="-4.04" y1="0.50" x2="4.04" y2="0.50" stroke="#1a1a1a" stroke-width="0.6"/></g>
<g transform="translate(380.9 844.0) rotate(-33.0)"><rect x="-5.35" y="-2.04" width="10.71" height="4.08" rx="2.04" fill="#fff" stroke="#1a1a1a" stroke-width="0.8"/><line x1="-3.85" y1="0.50" x2="3.85" y2="0.50" stroke="#1a1a1a" stroke-width="0.6"/></g>
<g transform="translate(399.4 832.0) rotate(-33.0)"><rect x="-5.17" y="-1.97" width="10.33" height="3.94" rx="1.97" fill="#fff" stroke="#1a1a1a" stroke-width="0.8"/><line x1="-3.67" y1="0.50" x2="3.67" y2="0.50" stroke="#1a1a1a" stroke-width="0.6"/></g>
<g transform="translate(417.9 819.9) rotate(-33.0)"><rect x="-4.98" y="-1.90" width="9.95" height="3.79" rx="1.90" fill="#fff" stroke="#1a1a1a" stroke-width="0.8"/><line x1="-3.48" y1="0.50" x2="3.48" y2="0.50" stroke="#1a1a1a" stroke-width="0.6"/></g>
<g transform="translate(436.4 807.9) rotate(-33.0)"><rect x="-4.79" y="-1.82" width="9.58" height="3.65" rx="1.82" fill="#fff" stroke="#1a1a1a" stroke-width="0.8"/><line x1="-3.29" y1="0.50" x2="3.29" y2="0.50" stroke="#1a1a1a" stroke-width="0.6"/></g>
<g transform="translate(455.0 795.9) rotate(-33.0)"><rect x="-4.60" y="-1.75" width="9.20" height="3.50" rx="1.75" fill="#fff" stroke="#1a1a1a" stroke-width="0.8"/><line x1="-3.10" y1="0.50" x2="3.10" y2="0.50" stroke="#1a1a1a" stroke-width="0.6"/></g>
<g transform="translate(473.5 783.8) rotate(-33.0)"><rect x="-4.41" y="-1.68" width="8.82" height="3.36" rx="1.68" fill="#fff" stroke="#1a1a1a" stroke-width="0.8"/><line x1="-2.91" y1="0.50" x2="2.91" y2="0.50" stroke="#1a1a1a" stroke-width="0.6"/></g>
<g transform="translate(492.0 771.8) rotate(-33.0)"><rect x="-4.22" y="-1.61" width="8.44" height="3.22" rx="1.61" fill="#fff" stroke="#1a1a1a" stroke-width="0.8"/><line x1="-2.72" y1="0.50" x2="2.72" y2="0.50" stroke="#1a1a1a" stroke-width="0.6"/></g>
<polygon points="550.4,787.4 325.0,950.7 325.0,994.2 551.7,830.4 551.7,788.8" fill="#fff" stroke="#1a1a1a" stroke-width="1.2" stroke-linejoin="round" />
<polygon points="325.0,950.7 327.4,951.8 327.4,992.6 325.0,994.2" fill="#555" stroke="#333" stroke-width="0.8" stroke-linejoin="round" />
<line x1="327.2" y1="952.0" x2="551.5" y2="789.2" stroke="#1a1a1a" stroke-width="1.0" stroke-linecap="round"/>
<polygon points="40.0,826.4 288.4,956.2 288.4,990.3 40.0,860.0" fill="#fff" stroke="#1a1a1a" stroke-width="0.95" stroke-linejoin="round" />
<polygon points="288.4,956.2 291.4,957.2 291.4,991.5 288.4,990.3" fill="#8c8c8c" stroke="#1a1a1a" stroke-width="0.7" stroke-linejoin="round" />
<line x1="40.0" y1="826.7" x2="291.4" y2="957.5" stroke="#1a1a1a" stroke-width="2.1" stroke-linecap="round"/>
<polygon points="35.7,858.3 288.4,990.0 288.4,1040.2 35.7,907.3" fill="#fff" stroke="#1a1a1a" stroke-width="0.95" stroke-linejoin="round" />
<polygon points="288.4,990.0 291.4,991.2 291.4,1041.7 288.4,1040.2" fill="#8c8c8c" stroke="#1a1a1a" stroke-width="0.7" stroke-linejoin="round" />
<line x1="35.7" y1="858.6" x2="291.4" y2="991.5" stroke="#1a1a1a" stroke-width="2.1" stroke-linecap="round"/>
<path d="M673.8,848.8 Q722.0,851.2 832.6,902.1 L842.6,897.9 Q731.3,846.7 681.2,844.2 Z" fill="#fff" stroke="#1a1a1a" stroke-width="0.95" stroke-linejoin="round" stroke-linecap="round" />
<circle cx="673.8" cy="848.8" r="0.8" fill="#1a1a1a"/>
<path d="M667.7,853.3 Q720.4,857.5 827.2,911.4 L838.0,906.8 Q730.9,852.8 676.2,848.4 Z" fill="#fff" stroke="#1a1a1a" stroke-width="0.95" stroke-linejoin="round" stroke-linecap="round" />
<circle cx="667.7" cy="853.3" r="0.8" fill="#1a1a1a"/>
<path d="M661.6,857.8 Q718.7,864.1 821.8,920.7 L833.4,915.7 Q730.3,859.1 671.2,852.6 Z" fill="#fff" stroke="#1a1a1a" stroke-width="0.95" stroke-linejoin="round" stroke-linecap="round" />
<circle cx="661.6" cy="857.8" r="0.8" fill="#1a1a1a"/>
<path d="M655.6,862.4 Q716.8,871.0 816.4,930.1 L828.8,924.6 Q729.5,865.7 666.1,856.8 Z" fill="#fff" stroke="#1a1a1a" stroke-width="0.95" stroke-linejoin="round" stroke-linecap="round" />
<circle cx="655.6" cy="862.4" r="0.8" fill="#1a1a1a"/>
<path d="M649.5,866.9 Q714.8,878.0 810.9,939.4 L824.2,933.5 Q728.5,872.4 661.1,861.0 Z" fill="#fff" stroke="#1a1a1a" stroke-width="0.95" stroke-linejoin="round" stroke-linecap="round" />
<circle cx="649.5" cy="866.9" r="0.8" fill="#1a1a1a"/>
<path d="M643.4,871.5 Q712.6,885.3 805.5,948.7 L819.6,942.4 Q727.4,879.4 656.0,865.2 Z" fill="#fff" stroke="#1a1a1a" stroke-width="0.95" stroke-linejoin="round" stroke-linecap="round" />
<circle cx="643.4" cy="871.5" r="0.8" fill="#1a1a1a"/>
<path d="M637.4,876.0 Q710.4,892.8 800.1,958.0 L815.0,951.3 Q726.1,886.6 651.0,869.3 Z" fill="#fff" stroke="#1a1a1a" stroke-width="0.95" stroke-linejoin="round" stroke-linecap="round" />
<circle cx="637.4" cy="876.0" r="0.8" fill="#1a1a1a"/>
<path d="M631.3,880.5 Q708.0,900.5 794.7,967.4 L810.4,960.2 Q724.6,894.0 645.9,873.5 Z" fill="#fff" stroke="#1a1a1a" stroke-width="0.95" stroke-linejoin="round" stroke-linecap="round" />
<circle cx="631.3" cy="880.5" r="0.8" fill="#1a1a1a"/>
<path d="M625.2,885.1 Q705.6,908.4 789.3,976.7 L805.8,969.1 Q723.1,901.6 640.9,877.7 Z" fill="#fff" stroke="#1a1a1a" stroke-width="0.95" stroke-linejoin="round" stroke-linecap="round" />
<circle cx="625.2" cy="885.1" r="0.8" fill="#1a1a1a"/>
<path d="M619.1,889.6 Q703.0,916.5 783.8,986.0 L801.2,978.0 Q721.4,909.3 635.8,881.9 Z" fill="#fff" stroke="#1a1a1a" stroke-width="0.95" stroke-linejoin="round" stroke-linecap="round" />
<circle cx="619.1" cy="889.6" r="0.8" fill="#1a1a1a"/>
<path d="M613.1,894.2 Q700.4,924.7 778.4,995.4 L796.6,986.9 Q719.6,917.2 630.8,886.1 Z" fill="#fff" stroke="#1a1a1a" stroke-width="0.95" stroke-linejoin="round" stroke-linecap="round" />
<circle cx="613.1" cy="894.2" r="0.8" fill="#1a1a1a"/>
<path d="M607.0,898.7 Q697.7,933.2 773.0,1004.7 L792.0,995.8 Q717.8,925.3 625.7,890.3 Z" fill="#fff" stroke="#1a1a1a" stroke-width="0.95" stroke-linejoin="round" stroke-linecap="round" />
<circle cx="607.0" cy="898.7" r="0.8" fill="#1a1a1a"/>
<text transform="matrix(0.06834 0 0 0.09836 380.88 617.43)" font-size="400" font-weight="bold" fill="#1d1d1b" stroke="#1d1d1b" stroke-width="0.35" vector-effect="non-scaling-stroke" stroke-linejoin="round">A</text><text transform="matrix(0.07333 0 0 0.09836 401.09 617.43)" font-size="400" font-weight="bold" fill="#1d1d1b" stroke="#1d1d1b" stroke-width="0.35" vector-effect="non-scaling-stroke" stroke-linejoin="round" clip-path="url(#c1b)">1</text>
<text transform="matrix(0.07208 0 0 0.09836 380.93 659.83)" font-size="400" font-weight="bold" fill="#1d1d1b" stroke="#1d1d1b" stroke-width="0.35" vector-effect="non-scaling-stroke" stroke-linejoin="round" clip-path="url(#c1b)">1</text><text transform="matrix(0.06644 0 0 0.09836 396.88 659.83)" font-size="400" font-weight="bold" fill="#1d1d1b" stroke="#1d1d1b" stroke-width="0.35" vector-effect="non-scaling-stroke" stroke-linejoin="round">x</text>
<text transform="matrix(0.06799 0 0 0.09764 136.18 688.73)" font-size="400" font-weight="bold" fill="#1d1d1b" stroke="#1d1d1b" stroke-width="0.35" vector-effect="non-scaling-stroke" stroke-linejoin="round">A</text><text transform="matrix(0.05923 0 0 0.09764 157.68 688.73)" font-size="400" font-weight="bold" fill="#1d1d1b" stroke="#1d1d1b" stroke-width="0.35" vector-effect="non-scaling-stroke" stroke-linejoin="round">3</text>
<text transform="matrix(0.07042 0 0 0.09618 136.47 730.83)" font-size="400" font-weight="bold" fill="#1d1d1b" stroke="#1d1d1b" stroke-width="0.35" vector-effect="non-scaling-stroke" stroke-linejoin="round" clip-path="url(#c1b)">1</text><text transform="matrix(0.06554 0 0 0.09618 152.18 730.83)" font-size="400" font-weight="bold" fill="#1d1d1b" stroke="#1d1d1b" stroke-width="0.35" vector-effect="non-scaling-stroke" stroke-linejoin="round">x</text>
<text transform="matrix(0.06661 0 0 0.09909 125.88 954.62)" font-size="400" font-weight="bold" fill="#1d1d1b" stroke="#1d1d1b" stroke-width="0.35" vector-effect="non-scaling-stroke" stroke-linejoin="round">A</text><text transform="matrix(0.05833 0 0 0.09909 147.08 954.62)" font-size="400" font-weight="bold" fill="#1d1d1b" stroke="#1d1d1b" stroke-width="0.35" vector-effect="non-scaling-stroke" stroke-linejoin="round">2</text>
<text transform="matrix(0.07542 0 0 0.09727 125.44 996.83)" font-size="400" font-weight="bold" fill="#1d1d1b" stroke="#1d1d1b" stroke-width="0.35" vector-effect="non-scaling-stroke" stroke-linejoin="round" clip-path="url(#c1b)">1</text><text transform="matrix(0.06419 0 0 0.09727 141.88 996.83)" font-size="400" font-weight="bold" fill="#1d1d1b" stroke="#1d1d1b" stroke-width="0.35" vector-effect="non-scaling-stroke" stroke-linejoin="round">x</text>
<text transform="matrix(0.06903 0 0 0.09873 447.18 901.62)" font-size="400" font-weight="bold" fill="#1d1d1b" stroke="#1d1d1b" stroke-width="0.35" vector-effect="non-scaling-stroke" stroke-linejoin="round">A</text><text transform="matrix(0.06599 0 0 0.09873 467.88 901.62)" font-size="400" font-weight="bold" fill="#1d1d1b" stroke="#1d1d1b" stroke-width="0.35" vector-effect="non-scaling-stroke" stroke-linejoin="round">4</text>
<text transform="matrix(0.07458 0 0 0.09691 447.16 943.83)" font-size="400" font-weight="bold" fill="#1d1d1b" stroke="#1d1d1b" stroke-width="0.35" vector-effect="non-scaling-stroke" stroke-linejoin="round" clip-path="url(#c1b)">1</text><text transform="matrix(0.06599 0 0 0.09691 463.18 943.83)" font-size="400" font-weight="bold" fill="#1d1d1b" stroke="#1d1d1b" stroke-width="0.35" vector-effect="non-scaling-stroke" stroke-linejoin="round">x</text>
<text transform="matrix(0.05640 0 0 0.07600 224.50 738.30)" font-size="400" font-weight="bold" fill="#1d1d1b" stroke="#1d1d1b" stroke-width="0.8" vector-effect="non-scaling-stroke" stroke-linejoin="round">A</text><text transform="matrix(0.04730 0 0 0.07600 242.40 738.30)" font-size="400" font-weight="bold" fill="#1d1d1b" stroke="#1d1d1b" stroke-width="0.8" vector-effect="non-scaling-stroke" stroke-linejoin="round">5</text>
<text transform="matrix(0.04910 0 0 0.07636 224.90 773.10)" font-size="400" font-weight="bold" fill="#1d1d1b" stroke="#1d1d1b" stroke-width="0.8" vector-effect="non-scaling-stroke" stroke-linejoin="round">2</text><text transform="matrix(0.05090 0 0 0.07636 237.70 773.10)" font-size="400" font-weight="bold" fill="#1d1d1b" stroke="#1d1d1b" stroke-width="0.8" vector-effect="non-scaling-stroke" stroke-linejoin="round">x</text>
<text transform="matrix(0.05294 0 0 0.07527 210.00 827.30)" font-size="400" font-weight="bold" fill="#1d1d1b" stroke="#1d1d1b" stroke-width="0.8" vector-effect="non-scaling-stroke" stroke-linejoin="round">A</text><text transform="matrix(0.04550 0 0 0.07527 226.80 827.30)" font-size="400" font-weight="bold" fill="#1d1d1b" stroke="#1d1d1b" stroke-width="0.8" vector-effect="non-scaling-stroke" stroke-linejoin="round">6</text>
<text transform="matrix(0.04775 0 0 0.07455 210.00 862.60)" font-size="400" font-weight="bold" fill="#1d1d1b" stroke="#1d1d1b" stroke-width="0.8" vector-effect="non-scaling-stroke" stroke-linejoin="round">2</text><text transform="matrix(0.04865 0 0 0.07455 222.20 862.60)" font-size="400" font-weight="bold" fill="#1d1d1b" stroke="#1d1d1b" stroke-width="0.8" vector-effect="non-scaling-stroke" stroke-linejoin="round">x</text>
<text transform="matrix(0.05363 0 0 0.07636 301.50 823.40)" font-size="400" font-weight="bold" fill="#1d1d1b" stroke="#1d1d1b" stroke-width="0.8" vector-effect="non-scaling-stroke" stroke-linejoin="round">A</text><text transform="matrix(0.04550 0 0 0.07636 318.60 823.40)" font-size="400" font-weight="bold" fill="#1d1d1b" stroke="#1d1d1b" stroke-width="0.8" vector-effect="non-scaling-stroke" stroke-linejoin="round">8</text>
<text transform="matrix(0.04910 0 0 0.07636 301.50 857.60)" font-size="400" font-weight="bold" fill="#1d1d1b" stroke="#1d1d1b" stroke-width="0.8" vector-effect="non-scaling-stroke" stroke-linejoin="round">2</text><text transform="matrix(0.04910 0 0 0.07636 313.90 857.60)" font-size="400" font-weight="bold" fill="#1d1d1b" stroke="#1d1d1b" stroke-width="0.8" vector-effect="non-scaling-stroke" stroke-linejoin="round">x</text>
<text transform="matrix(0.05433 0 0 0.07564 423.70 727.70)" font-size="400" font-weight="bold" fill="#1d1d1b" stroke="#1d1d1b" stroke-width="0.8" vector-effect="non-scaling-stroke" stroke-linejoin="round">A</text><text transform="matrix(0.04730 0 0 0.07564 441.00 727.70)" font-size="400" font-weight="bold" fill="#1d1d1b" stroke="#1d1d1b" stroke-width="0.8" vector-effect="non-scaling-stroke" stroke-linejoin="round">7</text>
<text transform="matrix(0.04910 0 0 0.07600 423.30 762.50)" font-size="400" font-weight="bold" fill="#1d1d1b" stroke="#1d1d1b" stroke-width="0.8" vector-effect="non-scaling-stroke" stroke-linejoin="round">2</text><text transform="matrix(0.05000 0 0 0.07600 435.80 762.50)" font-size="400" font-weight="bold" fill="#1d1d1b" stroke="#1d1d1b" stroke-width="0.8" vector-effect="non-scaling-stroke" stroke-linejoin="round">x</text>
<text transform="matrix(0.05294 0 0 0.06945 724.50 827.30)" font-size="400" font-weight="bold" fill="#1d1d1b" stroke="#1d1d1b" stroke-width="0.8" vector-effect="non-scaling-stroke" stroke-linejoin="round">A</text><text transform="matrix(0.05270 0 0 0.06945 741.40 827.30)" font-size="400" font-weight="bold" fill="#1d1d1b" stroke="#1d1d1b" stroke-width="0.8" vector-effect="non-scaling-stroke" stroke-linejoin="round">9</text>
</g></svg></body></html>
